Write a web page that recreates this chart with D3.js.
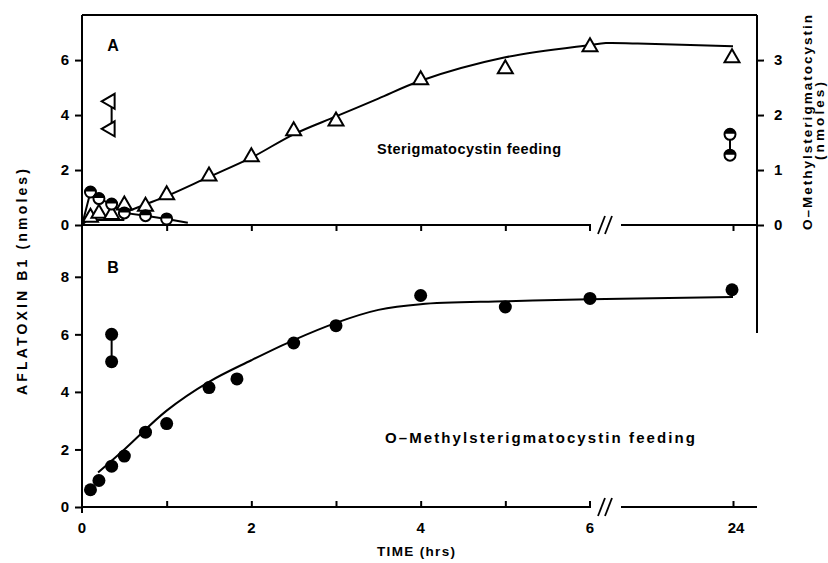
<!DOCTYPE html>
<html lang="en">
<head>
<meta charset="UTF-8">
<title>Aflatoxin B1 feeding</title>
<style>
  body { margin: 0; background: #fff; }
  svg { display: block; }
  text { font-family: "Liberation Sans", Arial, sans-serif; font-weight: bold; fill: #000; }
</style>
</head>
<body>
<script src="https://cdnjs.cloudflare.com/ajax/libs/d3/7.8.2/d3.min.js"></script>
<script>
// ---- data (hours, nmoles) ----
// panel A : sterigmatocystin feeding
const hoursA = [0.1, 0.2, 0.35, 0.5, 0.75, 1, 1.5, 2, 2.5, 3, 4, 5, 6, 24];
const aflaA = [0.3, 0.45, 0.4, 0.75, 0.7, 1.12, 1.8, 2.5, 3.45, 3.8, 5.3, 5.7, 6.5, 6.1];
const aflaAPairHour = 0.35;
const aflaAPair = [4.5, 3.5];
const omstHours = [0.1, 0.2, 0.35, 0.5, 0.75, 1];
const omstA = [0.6, 0.48, 0.38, 0.22, 0.17, 0.11];     // right axis
const omstPair = [1.65, 1.27];                       // right axis, at 24 h
const curveAHours = [0.5, 0.75, 1, 1.5, 2, 2.5, 3, 3.5, 4, 5, 6, 8, 12, 24];
const curveAVals = [0.45, 0.75, 1.05, 1.75, 2.45, 3.3, 3.95, 4.6, 5.25, 6.1, 6.55, 6.62, 6.6, 6.5];
const earlyTriHours = [0, 0.1, 0.14, 0.5];
const earlyTriVals = [0, 0.3, 0.18, 0.18];
const omstLineHours = [0, 0.1, 0.2, 0.35, 0.5, 0.75, 1, 1.25];
const omstLineVals = [0, 0.6, 0.48, 0.38, 0.22, 0.17, 0.11, 0.04];

// panel B : O-methylsterigmatocystin feeding
const hoursB = [0.1, 0.2, 0.35, 0.5, 0.75, 1, 1.5, 1.83, 2.5, 3, 4, 5, 6, 24];
const aflaB = [0.6, 0.92, 1.42, 1.77, 2.6, 2.9, 4.15, 4.45, 5.7, 6.3, 7.35, 6.95, 7.25, 7.55];
const aflaBPair = [6.0, 5.05];
const curveBHours = [0.19, 0.5, 1, 1.5, 2, 2.5, 3, 3.5, 4, 5, 6, 24];
const curveBVals = [1.2, 2.0, 3.35, 4.35, 5.1, 5.8, 6.4, 6.85, 7.05, 7.15, 7.22, 7.3];

const xTicksMinor = [1, 2, 3, 4, 5];
const xTickLabels = [0, 2, 4, 6, 24];
const yTicksA = [0, 2, 4, 6];
const yTicksARight = [0, 1, 2, 3];
const yTicksB = [0, 2, 4, 6, 8];

// ---- layout ----
const W = 828, H = 563;
const plotL = 82, plotR = 757, plotT = 15, plotMid = 225, plotB = 507;

const svg = d3.select("body").append("svg").attr("width", W).attr("height", H);

// broken time axis: 0-6 h then a compressed piece out to 24 h
const xNear = d3.scaleLinear().domain([0, 6]).range([plotL, 590]);
const xFar = d3.scaleLinear().domain([6, 24]).range([590, 733]);
const x = t => t <= 6 ? xNear(t) : xFar(t);

const yA = d3.scaleLinear().domain([0, 7.64]).range([plotMid, plotT]);
const yAR = d3.scaleLinear().domain([0, 3.82]).range([plotMid, plotT]);
const yB = d3.scaleLinear().domain([0, 9.8]).range([plotB, plotMid]);

const ink = "#000";

// ---- frame ----
const frame = svg.append("g").attr("stroke", ink).attr("stroke-width", 2).attr("fill", "none");
frame.append("line").attr("x1", plotL).attr("x2", plotL).attr("y1", plotT).attr("y2", plotB + 6);
frame.append("line").attr("x1", plotL).attr("x2", plotR).attr("y1", plotT).attr("y2", plotT);
frame.append("line").attr("x1", plotR).attr("x2", plotR).attr("y1", plotT).attr("y2", 333);
// middle axis (panel A bottom), with break
frame.append("path").attr("d", `M${plotL},${plotMid}H${x(6)}v6`);
frame.append("line").attr("x1", 621).attr("x2", plotR).attr("y1", plotMid).attr("y2", plotMid);
// bottom axis, with break
frame.append("path").attr("d", `M${plotL},${plotB}H${x(6)}v-6`);
frame.append("line").attr("x1", 621).attr("x2", plotR).attr("y1", plotB).attr("y2", plotB);
// break marks
[plotMid, plotB].forEach(y0 => {
  [0, 7].forEach(dx => {
    frame.append("line")
      .attr("x1", 598 + dx).attr("y1", y0 + 9)
      .attr("x2", 605 + dx).attr("y2", y0 - 9)
      .attr("stroke-width", 1.8);
  });
});

// ---- axes ----
function styleAxis(g) {
  g.select(".domain").remove();
  g.selectAll(".tick line").attr("stroke", ink).attr("stroke-width", 2);
  g.selectAll(".tick text").attr("font-size", 15).attr("font-family", "Liberation Sans, Arial, sans-serif").attr("font-weight", "bold");
}

svg.append("g").attr("transform", `translate(${plotL},0)`)
  .call(d3.axisLeft(yA).tickValues(yTicksA).tickSize(7).tickPadding(6).tickFormat(d3.format("d")))
  .call(styleAxis);
svg.append("g").attr("transform", `translate(${plotL},0)`)
  .call(d3.axisLeft(yB).tickValues(yTicksB).tickSize(7).tickPadding(6).tickFormat(d3.format("d")))
  .call(styleAxis);
svg.append("g").attr("transform", `translate(${plotR},0)`)
  .call(d3.axisRight(yAR).tickValues(yTicksARight).tickSize(7).tickPadding(10).tickFormat(d3.format("d")))
  .call(styleAxis);

// minor time ticks pointing into the panels
svg.append("g").attr("transform", `translate(0,${plotMid})`)
  .call(d3.axisBottom(xNear).tickValues(xTicksMinor).tickSize(6).tickFormat(""))
  .call(styleAxis);
svg.append("g").attr("transform", `translate(0,${plotMid})`)
  .call(d3.axisBottom(xFar).tickValues([24]).tickSize(6).tickFormat(""))
  .call(styleAxis);
svg.append("g").attr("transform", `translate(0,${plotB})`)
  .call(d3.axisTop(xNear).tickValues(xTicksMinor).tickSize(6).tickFormat(""))
  .call(styleAxis);
svg.append("g").attr("transform", `translate(0,${plotB})`)
  .call(d3.axisTop(xFar).tickValues([24]).tickSize(6).tickFormat(""))
  .call(styleAxis);

// time labels
svg.append("g").selectAll("text").data(xTickLabels).join("text")
  .attr("x", d => x(d) + (d === 24 ? 3 : 0)).attr("y", plotB + 26)
  .attr("text-anchor", "middle").attr("font-size", 15)
  .text(d => d);

// ---- lines ----
const lineA = d3.line().x(d => x(d[0])).y(d => yA(d[1])).curve(d3.curveCatmullRom);
const lineAR = d3.line().x(d => x(d[0])).y(d => yAR(d[1]));
const lineA0 = d3.line().x(d => x(d[0])).y(d => yA(d[1]));
const lineB = d3.line().x(d => x(d[0])).y(d => yB(d[1])).curve(d3.curveCatmullRom);

const lines = svg.append("g").attr("fill", "none").attr("stroke", ink).attr("stroke-width", 2);
lines.append("path").attr("d", lineA(d3.zip(curveAHours, curveAVals)));
lines.append("path").attr("d", lineA0(d3.zip(earlyTriHours, earlyTriVals)));
lines.append("path").attr("d", lineAR(d3.zip(omstLineHours, omstLineVals)));
lines.append("path").attr("d", lineB(d3.zip(curveBHours, curveBVals)));
// duplicate pairs joined by a bar
lines.append("line").attr("x1", x(aflaAPairHour)).attr("x2", x(aflaAPairHour))
  .attr("y1", yA(aflaAPair[0])).attr("y2", yA(aflaAPair[1]));
lines.append("line").attr("x1", x(24) - 3).attr("x2", x(24) - 3)
  .attr("y1", yAR(omstPair[0])).attr("y2", yAR(omstPair[1]));
lines.append("line").attr("x1", x(aflaAPairHour)).attr("x2", x(aflaAPairHour))
  .attr("y1", yB(aflaBPair[0])).attr("y2", yB(aflaBPair[1]));

// ---- markers ----
const triUp = "M0,-8L7.5,5L-7.5,5Z";
const triLeft = "M-8,0L5,-7.5L5,7.5Z";

// panel A open triangles
svg.append("g").selectAll("path").data(d3.zip(hoursA, aflaA)).join("path")
  .attr("d", triUp)
  .attr("transform", d => `translate(${x(d[0]) - (d[0] === 24 ? 1 : 0)},${yA(d[1])})`)
  .attr("fill", "#fff").attr("stroke", ink).attr("stroke-width", 2);
svg.append("g").selectAll("path").data(aflaAPair).join("path")
  .attr("d", triLeft)
  .attr("transform", d => `translate(${x(aflaAPairHour) - 2},${yA(d)})`)
  .attr("fill", "#fff").attr("stroke", ink).attr("stroke-width", 2);

// panel A half-filled circles (right axis)
function halfCircle(g, cx, cy) {
  const r = 5.5;
  g.append("circle").attr("cx", cx).attr("cy", cy).attr("r", r)
    .attr("fill", "#fff").attr("stroke", ink).attr("stroke-width", 2);
  g.append("path")
    .attr("d", `M${cx - r},${cy - 0.5}A${r},${r} 0 0 1 ${cx + r},${cy - 0.5}Z`)
    .attr("fill", ink);
}
const halfG = svg.append("g");
d3.zip(omstHours, omstA).forEach(d => halfCircle(halfG, x(d[0]), yAR(d[1])));
omstPair.forEach(v => halfCircle(halfG, x(24) - 3, yAR(v)));

// panel B filled circles
svg.append("g").selectAll("circle").data(d3.zip(hoursB, aflaB)).join("circle")
  .attr("cx", d => x(d[0]) - (d[0] === 24 ? 1 : 0)).attr("cy", d => yB(d[1])).attr("r", 6.5)
  .attr("fill", ink);
svg.append("g").selectAll("circle").data(aflaBPair).join("circle")
  .attr("cx", x(aflaAPairHour)).attr("cy", d => yB(d)).attr("r", 6.5)
  .attr("fill", ink);

// ---- text ----
svg.append("text").attr("x", 113).attr("y", 51).attr("text-anchor", "middle").attr("font-size", 16).text("A");
svg.append("text").attr("x", 113).attr("y", 273).attr("text-anchor", "middle").attr("font-size", 16).text("B");

svg.append("text").attr("x", 377).attr("y", 154).attr("font-size", 14.5)
  .attr("textLength", 184).attr("lengthAdjust", "spacing")
  .text("Sterigmatocystin feeding");
svg.append("text").attr("x", 385).attr("y", 443).attr("font-size", 15)
  .attr("textLength", 310).attr("lengthAdjust", "spacing")
  .text("O\u2013Methylsterigmatocystin feeding");

svg.append("text").attr("x", 377).attr("y", 556).attr("font-size", 13.5)
  .attr("textLength", 78).attr("lengthAdjust", "spacing")
  .text("TIME (hrs)");

svg.append("text").attr("transform", "translate(27,395) rotate(-90)")
  .attr("font-size", 14).attr("textLength", 226).attr("lengthAdjust", "spacing")
  .text("AFLATOXIN B1   (nmoles)");

svg.append("text").attr("transform", "translate(812,230) rotate(-90)")
  .attr("font-size", 13.5).attr("textLength", 215).attr("lengthAdjust", "spacing")
  .text("O\u2013Methylsterigmatocystin");
svg.append("text").attr("transform", "translate(824,160) rotate(-90)")
  .attr("font-size", 13.5).attr("textLength", 78).attr("lengthAdjust", "spacing")
  .text("(nmoles)");
</script>
</body>
</html>
